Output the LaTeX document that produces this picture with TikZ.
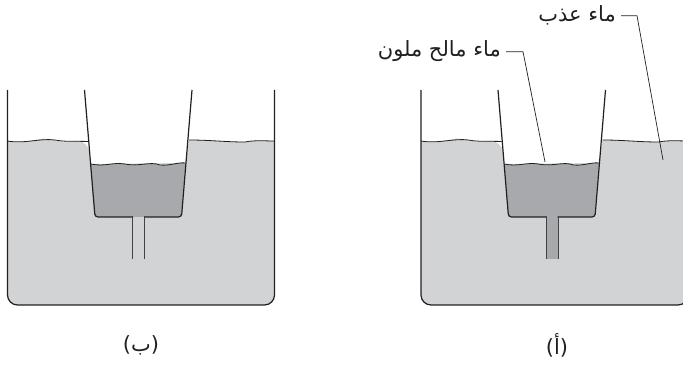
\documentclass[tikz,border=0pt]{standalone}
\usepackage{fontspec}
\newfontfamily\arabicfont[Script=Arabic]{DejaVu Sans}
\TeXXeTstate=1
\usetikzlibrary{calc, positioning}
\definecolor{freshwater}{RGB}{209,211,212}
\definecolor{saltwater}{RGB}{167,169,172}
\definecolor{wallcolor}{RGB}{35,31,32}
\tikzset{
  wall/.style={draw=wallcolor, line width=1.2pt},
  stem/.style={draw=wallcolor!85, line width=1pt},
  waterline/.style={draw=wallcolor, line width=0.8pt},
  leader/.style={draw=wallcolor, line width=0.7pt},
  arlabel/.style={font=\arabicfont\fontsize{21}{24}\selectfont, inner sep=0pt, text=wallcolor},
}
% one beaker with its funnel, #1 = colour in the stem
\newcommand{\beaker}[1]{
  % fresh water
  \fill[freshwater, rounded corners=10pt] (7.5,141) .. controls (25,144) and (40,138) .. (55,140) .. controls (65,142) and (75,141) .. (88,141.5)
    [sharp corners] -- (91,164) -- (185.5,163) -- (189,140) .. controls (210,140) and (225,142) .. (245,142) .. controls (255,140) and (265,141) .. (274.5,141)
    [rounded corners=10pt] -- (274.5,305) -- (7.5,305) [sharp corners] -- cycle;
  % salt water in the funnel
  \fill[saltwater] (91,164) .. controls (105,167) and (112,162) .. (125,164) .. controls (140,167) and (150,161) .. (160,165) .. controls (170,166) and (178,162) .. (185.5,163)
    -- (181,217) -- (95,217) -- cycle;
  \fill[#1] (132.5,217) rectangle (144.5,259);
  % water lines
  \draw[waterline] (7.5,141) .. controls (25,144) and (40,138) .. (55,140) .. controls (65,142) and (75,141) .. (88,141.5);
  \draw[waterline] (189,140) .. controls (210,140) and (225,142) .. (245,142) .. controls (255,140) and (265,141) .. (274.5,141);
  \draw[waterline] (91,164) .. controls (105,167) and (112,162) .. (125,164) .. controls (140,167) and (150,161) .. (160,165) .. controls (170,166) and (178,162) .. (185.5,163);
  % beaker
  \draw[wall, rounded corners=10pt] (7.5,90) -- (7.5,305) -- (274.5,305) -- (274.5,90);
  % funnel
  \draw[wall, rounded corners=3pt] (84.5,90) -- (95,217) -- (133,217);
  \draw[wall, rounded corners=3pt] (192,90) -- (181.5,217) -- (144,217);
  \draw[stem] (132.5,216.4) -- (132.5,259);
  \draw[stem] (144.5,216.4) -- (144.5,259);
}

\begin{document}
\begin{tikzpicture}[x=1pt, y=-1pt]
  \useasboundingbox (0,0) rectangle (683,366);
  \clip (0,0) rectangle (683,366);
  % right beaker
  \begin{scope}[shift={(413.5,0)}]
    \beaker{saltwater}
  \end{scope}
  % left beaker
  \beaker{freshwater}

  % labels
  \node[arlabel, anchor=east] (fresh) at (616,15) {\beginR ماء عذب\endR};
  \node[arlabel, anchor=east] (salt) at (501,51) {\beginR ماء مالح ملون\endR};
  \node[arlabel] (capa) at (557,345) {\beginR(أ)\endR};
  \node[arlabel] (capb) at (141,345) {\beginR(ب)\endR};

  \coordinate (freshend) at (663,160);
  \coordinate (saltend) at (545,162);
  \draw[leader] (fresh.east) ++(5,0.7) -- ++(16,0) -- (freshend);
  \draw[leader] (salt.east) ++(5,0.7) -- ++(17,0) -- (saltend);
\end{tikzpicture}
\end{document}
